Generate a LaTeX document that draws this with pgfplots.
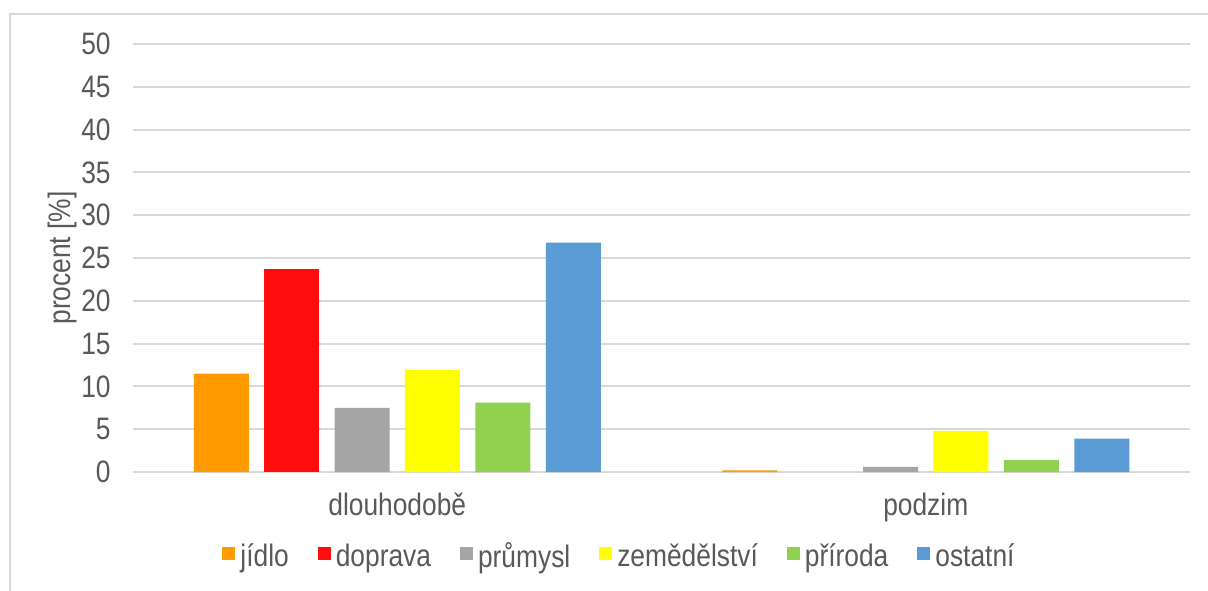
\documentclass[border=0pt]{standalone}
\usepackage{pgfplots}
\pgfplotsset{compat=1.18}
\usepackage{fontspec}
\setmainfont{Liberation Sans}[FakeStretch=0.85]

\definecolor{txt}{HTML}{595959}
\definecolor{gridc}{HTML}{D9D9D9}
\definecolor{cjidlo}{HTML}{FF9A00}
\definecolor{cdoprava}{HTML}{FF0C0C}
\definecolor{cprumysl}{HTML}{A5A5A5}
\definecolor{czemed}{HTML}{FFFF00}
\definecolor{cpriroda}{HTML}{92D050}
\definecolor{costatni}{HTML}{5B9BD5}

\newcommand{\chartfont}{\fontsize{15.5}{18}\selectfont}

\begin{document}
\begin{tikzpicture}
\useasboundingbox (0,0) rectangle (604pt,295pt);
% chart frame (left and top edges visible)
\draw[gridc, line width=0.8pt] (5pt,-2pt) -- (5pt,288pt) -- (606pt,288pt);

\begin{axis}[
    at={(66.5pt,59pt)}, anchor=south west,
    scale only axis,
    width=528.5pt, height=214pt,
    xmin=-0.5, xmax=1.5,
    ymin=0, ymax=50,
    ytick={0,5,...,50},
    xtick={0,1},
    xticklabels={dlouhodobě,podzim},
    ybar, bar width=27.5pt,
    axis line style={draw=none},
    major tick length=0pt,
    ymajorgrids,
    grid style={gridc, line width=1pt},
    font=\chartfont,
    /pgf/number format/assume math mode=true,
    tick label style={text=txt, font=\chartfont, inner sep=0pt},
    yticklabel style={anchor=east, xshift=-11pt},
    xticklabel style={anchor=base, yshift=-21.5pt},
    ylabel={procent [\%]},
    every axis y label/.style={at={(axis description cs:0,0.5)}, xshift=-35.5pt,
        rotate=90, anchor=center, text=txt, font=\chartfont},
    legend columns=-1,
    legend style={at={(0.4593,-0.1986)}, anchor=center, draw=none,
        text=txt, font=\chartfont,
        nodes={inner sep=0pt},
        /tikz/every odd column/.append style={column sep=2.5pt},
        /tikz/every even column/.append style={column sep=14.5pt}},
    legend image code/.code={\fill[#1] (0pt,-1.5pt) rectangle (6.5pt,5pt);},
]
\addplot[fill=cjidlo, draw=none, bar shift=-88pt] coordinates {(0,11.5) (1,0.2)};
\addlegendentry{jídlo}
\addplot[fill=cdoprava, draw=none, bar shift=-52.8pt] coordinates {(0,23.7)};
\addlegendentry{doprava}
\addplot[fill=cprumysl, draw=none, bar shift=-17.6pt] coordinates {(0,7.5) (1,0.6)};
\addlegendentry{průmysl}
\addplot[fill=czemed, draw=none, bar shift=17.6pt] coordinates {(0,11.9) (1,4.8)};
\addlegendentry{zemědělství}
\addplot[fill=cpriroda, draw=none, bar shift=52.8pt] coordinates {(0,8.1) (1,1.4)};
\addlegendentry{příroda}
\addplot[fill=costatni, draw=none, bar shift=88pt] coordinates {(0,26.8) (1,3.9)};
\addlegendentry{ostatní}
\end{axis}
\end{tikzpicture}
\end{document}
